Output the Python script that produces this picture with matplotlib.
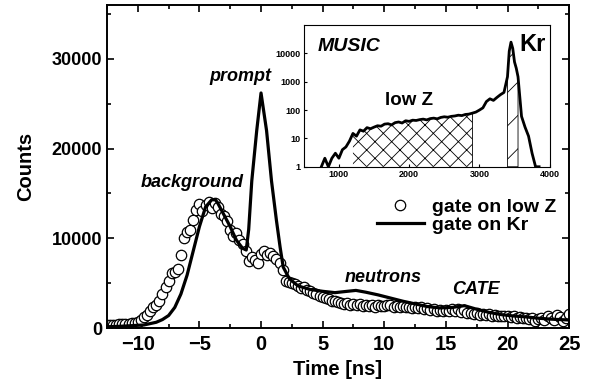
import numpy as np
import matplotlib
matplotlib.use('Agg')
import matplotlib.pyplot as plt
from matplotlib.ticker import MultipleLocator, FixedLocator, NullLocator

plt.rcParams['font.family'] = ['Liberation Sans', 'DejaVu Sans']
plt.rcParams['font.weight'] = 'bold'
plt.rcParams['axes.labelweight'] = 'bold'
plt.rcParams['hatch.linewidth'] = 0.6

# gate on Kr (solid line), time in ns
kr_time = [-12.5, -11.5, -10.5, -9.5, -8.5, -8.0, -7.5, -7.0, -6.5, -6.0,
           -5.5, -5.0, -4.5, -4.0, -3.7, -3.5, -3.0, -2.5, -2.0, -1.5,
           -1.2, -1.0, -0.75, -0.35, 0.0, 0.45, 0.85, 1.25, 1.55, 1.8,
           2.3, 3.0, 4.0, 5.0, 6.0, 7.0, 7.7, 8.5, 9.5, 10.5,
           11.5, 12.5, 13.5, 14.5, 15.5, 16.5, 17.5, 18.5, 19.5, 20.5,
           21.5, 22.5, 23.5, 25.0]
kr_counts = [150, 200, 270, 350, 650, 950, 1400, 2300, 3800, 5900,
             8600, 11300, 13500, 14300, 14300, 13900, 12600, 11300, 9800, 8900,
             8700, 11000, 16400, 22000, 26200, 22000, 16400, 12000, 9000, 6800,
             5500, 4700, 4300, 4100, 3950, 4100, 4200, 4000, 3700, 3350,
             3000, 2700, 2400, 2250, 2300, 2500, 2100, 1750, 1500, 1350,
             1250, 1100, 1000, 900]

# gate on low Z (open circles), 0.25 ns bins from -12.5 to 25
lowz_time = np.arange(-12.5, 25.01, 0.25)
lowz_counts = [
    330, 350, 380, 400, 430, 460, 470, 500, 520, 560,
    650, 900, 1250, 1500, 1900, 2350, 2600, 3000, 3800, 4600,
    5300, 6100, 6300, 6600, 8100, 10000, 10700, 10900, 12000, 13200,
    13800, 13100, 13700, 14000, 13400, 13900, 13500, 12700, 12500, 11900,
    10900, 10300, 10600, 9800, 9400, 8600, 7500, 7900, 7600, 7200,
    8300, 8600, 8200, 8400, 8000, 7700, 7300, 6500, 5300, 5100,
    5000, 4900, 4700, 4500, 4600, 4300, 4100, 3900, 3800, 3600,
    3500, 3300, 3200, 3050, 3000, 2900, 2850, 2700, 2800, 2600,
    2650, 2550, 2700, 2500, 2600, 2450, 2550, 2400, 2600, 2500,
    2450, 2600, 2550, 2400, 2500, 2350, 2450, 2300, 2400, 2250,
    2350, 2200, 2300, 2150, 2250, 2050, 2150, 1950, 2050, 1900,
    2000, 1850, 2100, 1950, 2150, 1800, 2050, 1650, 1700, 1550,
    1650, 1500, 1600, 1450, 1550, 1400, 1500, 1350, 1400, 1300,
    1350, 1200, 1300, 1150, 1250, 1100, 1150, 1050, 1100, 800,
    1050, 1150, 950, 1300, 1100, 900, 1500, 1200, 800, 1100,
    1600]

# MUSIC energy loss spectrum (inset)
music_ch = [750, 800, 850, 900, 950, 1000, 1050, 1100, 1150, 1200,
            1250, 1300, 1350, 1400, 1450, 1500, 1550, 1600, 1650, 1700,
            1750, 1800, 1850, 1900, 1950, 2000, 2050, 2100, 2150, 2200,
            2250, 2300, 2350, 2400, 2450, 2500, 2550, 2600, 2650, 2700,
            2750, 2800, 2850, 2900, 2950, 3000, 3050, 3100, 3150, 3200,
            3250, 3300, 3350, 3400, 3425, 3450, 3475, 3500, 3525, 3550,
            3600, 3650, 3700, 3750, 3800, 3850]
music_counts = [1, 2, 1, 2, 3, 2, 4, 5, 8, 15,
                12, 20, 18, 24, 22, 25, 28, 27, 32, 33,
                30, 36, 38, 35, 42, 40, 44, 43, 46, 48,
                45, 50, 52, 49, 55, 58, 56, 60, 62, 66,
                64, 70, 72, 78, 85, 100, 120, 200, 250, 220,
                280, 350, 420, 1500, 12000, 25000, 15000, 5000, 3000, 1500,
                60, 25, 12, 3, 1, 1]
lowz_gate = (1200, 2900)
kr_gate = (3400, 3550)

fig = plt.figure(figsize=(5.91, 3.86), dpi=100)
ax = fig.add_axes([0.181, 0.150, 0.782, 0.837])

ax.plot(lowz_time, lowz_counts, 'o', mfc='white', mec='black', ms=7.5, mew=0.9,
        label='gate on low Z', zorder=2)
ax.plot(kr_time, kr_counts, '-', color='black', lw=2.3, label='gate on Kr', zorder=3)

ax.set_xlim(-12.5, 25)
ax.set_ylim(0, 36000)
ax.xaxis.set_major_locator(MultipleLocator(5))
ax.xaxis.set_minor_locator(MultipleLocator(2.5))
ax.yaxis.set_major_locator(MultipleLocator(10000))
ax.yaxis.set_minor_locator(MultipleLocator(5000))
ax.tick_params(which='both', direction='in', top=True, right=True, width=1.2)
ax.tick_params(axis='x', labelsize=14.5, pad=5)
ax.tick_params(axis='y', labelsize=13)
ax.tick_params(which='major', length=5)
ax.tick_params(which='minor', length=3)
for s in ax.spines.values():
    s.set_linewidth(1.4)
ax.set_xlabel('Time [ns]', fontsize=14.5, labelpad=4)
ax.set_ylabel('Counts', fontsize=14.5, labelpad=12)

ax.text(-1.7, 28000, 'prompt', fontsize=13, style='italic', ha='center', va='center')
ax.text(-5.6, 16200, 'background', fontsize=13, style='italic', ha='center', va='center')
ax.text(9.9, 5650, 'neutrons', fontsize=13, style='italic', ha='center', va='center')
ax.text(17.4, 4300, 'CATE', fontsize=13, style='italic', ha='center', va='center')

ax.legend(frameon=False, fontsize=14, loc='upper left', bbox_to_anchor=(0.555, 0.445),
          handlelength=2.4, handletextpad=0.4, labelspacing=0.05, borderpad=0.2)

# inset
ins = fig.add_axes([0.514, 0.568, 0.416, 0.367])
ch = np.array(music_ch)
cnt = np.array(music_counts)
ins.plot(ch, cnt, color='black', lw=2.0)
m1 = (ch >= lowz_gate[0]) & (ch <= lowz_gate[1])
ins.fill_between(ch[m1], 1, cnt[m1], facecolor='none', edgecolor='black',
                 hatch='xx', lw=0)
ins.vlines(lowz_gate[1], 1, cnt[ch == lowz_gate[1]][0], color='black', lw=0.6)
m2 = (ch >= kr_gate[0]) & (ch <= kr_gate[1])
ins.fill_between(ch[m2], 1, cnt[m2], facecolor='none', edgecolor='black',
                 hatch='/', lw=0.6)

ins.set_yscale('log')
ins.set_xlim(500, 4000)
ins.set_ylim(1, 1e5)
ins.xaxis.set_major_locator(FixedLocator([1000, 2000, 3000, 4000]))
ins.xaxis.set_minor_locator(NullLocator())
ins.yaxis.set_major_locator(FixedLocator([1, 10, 100, 1000, 10000]))
ins.yaxis.set_minor_locator(NullLocator())
ins.set_yticklabels(['1', '10', '100', '1000', '10000'])
ins.tick_params(direction='in', labelsize=6.5, length=2.5, pad=2)
for s in ins.spines.values():
    s.set_linewidth(0.8)

ins.text(0.055, 0.85, 'MUSIC', transform=ins.transAxes, fontsize=14, style='italic',
         ha='left', va='center')
ins.text(0.43, 0.47, 'low Z', transform=ins.transAxes, fontsize=13.5, ha='center', va='center')
ins.text(0.93, 0.86, 'Kr', transform=ins.transAxes, fontsize=17, ha='center', va='center')

fig.savefig('out.png', dpi=100)
